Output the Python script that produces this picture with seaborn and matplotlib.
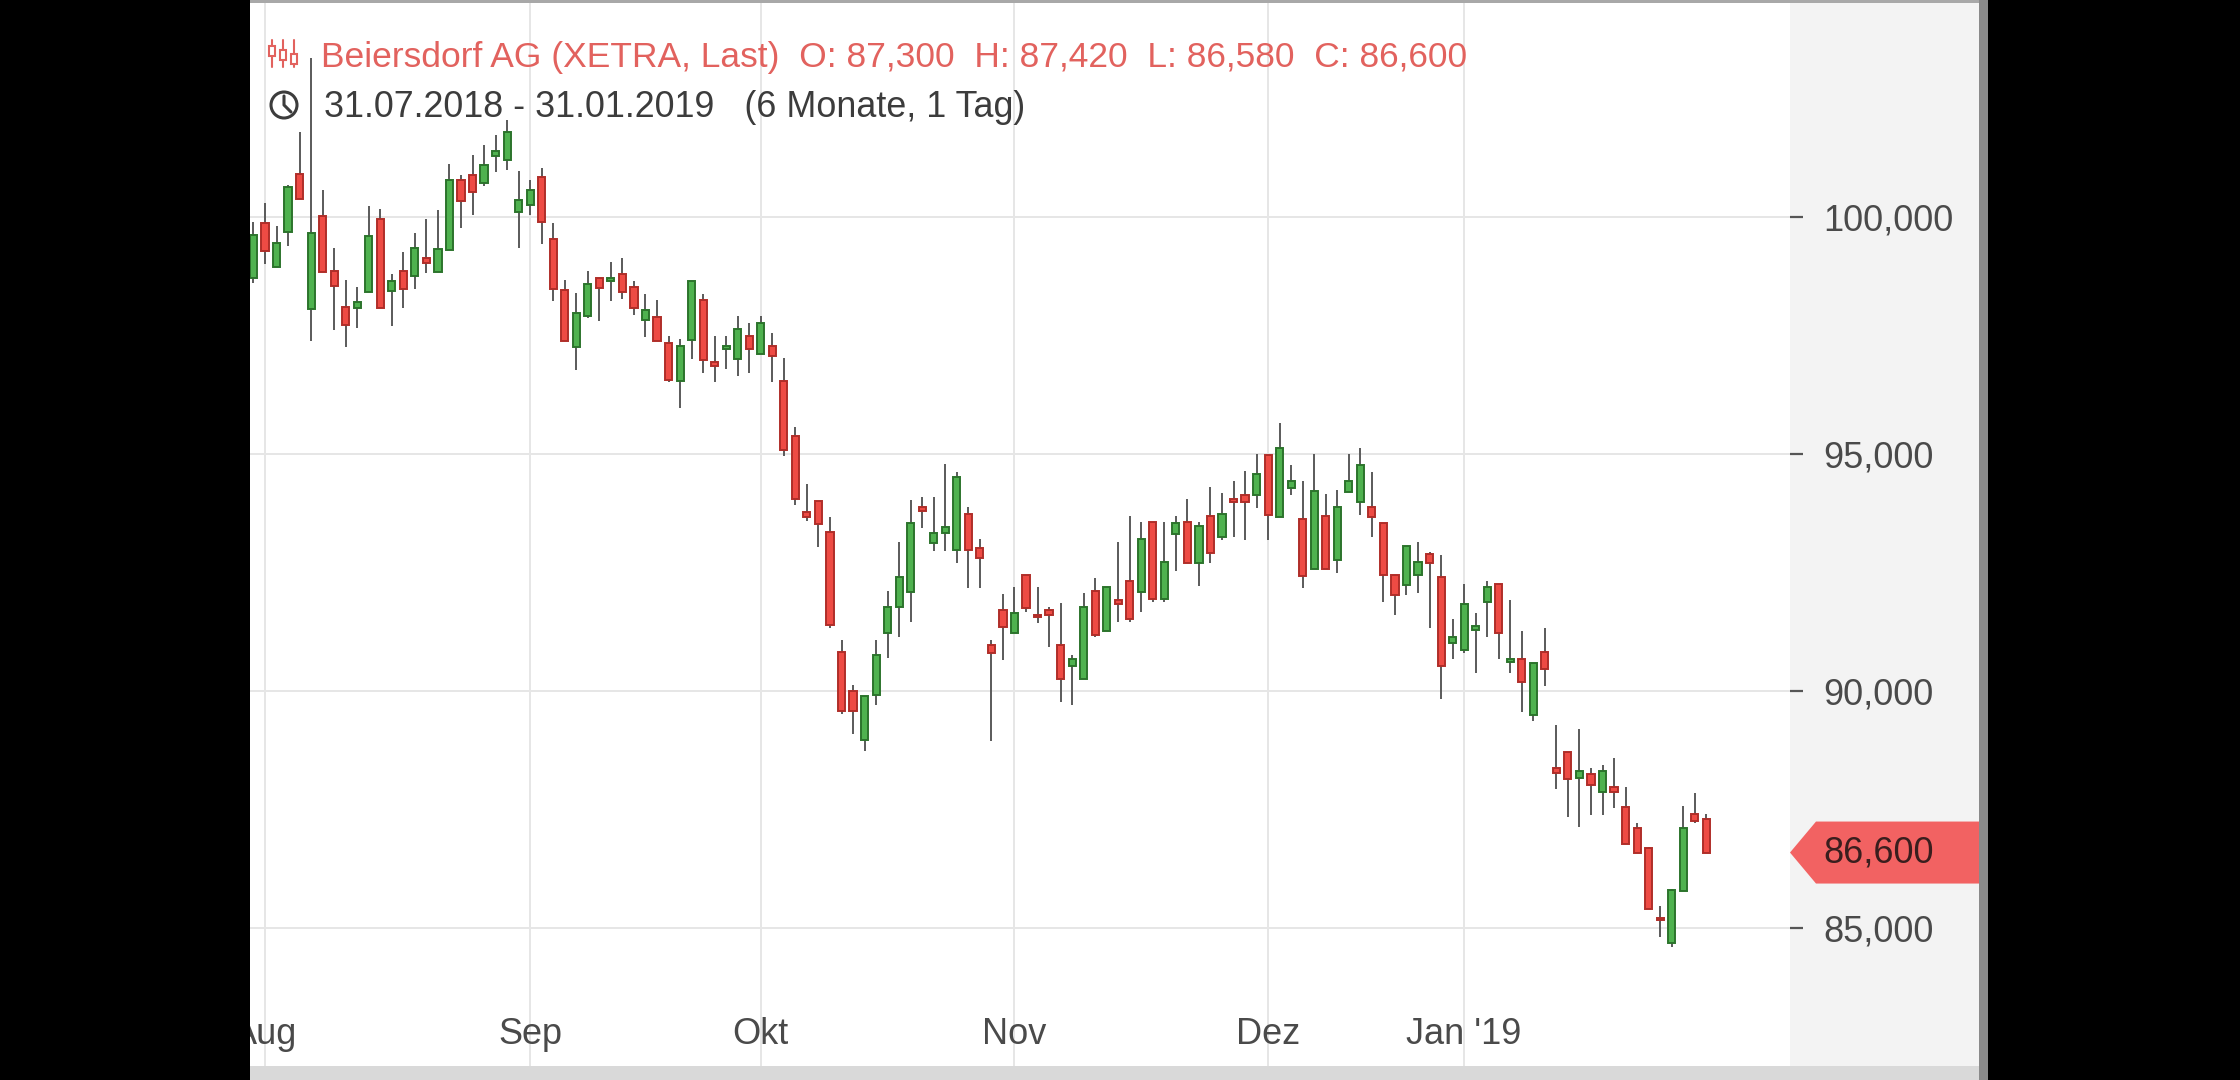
import numpy as np
import pandas as pd
import seaborn as sns
import matplotlib
matplotlib.use("Agg")
import matplotlib.pyplot as plt
import matplotlib.transforms as mtrans
from matplotlib.patches import Rectangle, Polygon, Ellipse
from matplotlib.lines import Line2D
from matplotlib.ticker import FuncFormatter

# Beiersdorf AG (XETRA) Tageskerzen 31.07.2018 - 31.01.2019
holidays = ["2018-10-03", "2018-12-24", "2018-12-25", "2018-12-26", "2018-12-31", "2019-01-01"]
dates = pd.bdate_range("2018-07-31", "2019-01-31", freq="C", holidays=holidays)

opens = [98.71, 99.88, 98.95, 99.69, 100.91, 98.06, 100.02, 98.85, 98.11, 98.08,
         98.41, 99.95, 98.43, 98.85, 98.76, 99.13, 98.83, 99.31, 100.77, 100.89,
         100.71, 101.29, 101.20, 100.11, 100.26, 100.84, 99.53, 98.45, 97.25, 97.91,
         98.71, 98.64, 98.80, 98.52, 97.82, 97.90, 97.35, 96.55, 97.41, 98.25,
         96.95, 97.21, 97.00, 97.49, 97.11, 97.28, 96.55, 95.38, 93.77, 94.02,
         93.36, 90.83, 90.01, 88.97, 89.92, 91.22, 91.77, 92.10, 93.89, 93.12,
         93.33, 92.98, 93.74, 93.01, 90.98, 91.71, 91.22, 92.45, 91.61, 91.71,
         90.98, 90.53, 90.25, 92.12, 91.28, 91.92, 92.33, 92.10, 93.56, 91.94,
         93.32, 93.56, 92.70, 93.70, 93.25, 94.05, 94.14, 94.14, 94.98, 93.67,
         94.28, 93.63, 92.57, 93.70, 92.77, 94.21, 94.00, 93.88, 93.54, 92.45,
         92.24, 92.45, 92.89, 92.40, 91.02, 90.87, 91.30, 91.89, 92.26, 90.62,
         90.69, 89.50, 90.83, 88.38, 88.73, 88.17, 88.26, 87.88, 87.98, 87.57,
         87.11, 86.69, 85.19, 84.69, 85.78, 87.41, 87.30]
highs = [99.90, 100.30, 99.81, 100.68, 101.80, 103.35, 100.57, 99.34, 98.66, 98.52,
         100.23, 100.16, 98.80, 99.27, 99.67, 99.95, 100.15, 101.12, 100.89, 101.31,
         101.52, 101.73, 102.05, 100.96, 100.77, 101.03, 99.88, 98.66, 98.39, 98.85,
         98.71, 99.06, 99.13, 98.64, 98.38, 98.25, 97.49, 97.42, 98.64, 98.38,
         97.49, 97.49, 97.91, 97.77, 97.91, 97.56, 97.02, 95.58, 94.38, 94.02,
         93.68, 91.09, 90.13, 89.90, 91.09, 92.12, 93.15, 94.03, 94.10, 94.10,
         94.79, 94.63, 93.89, 93.22, 91.09, 92.06, 92.20, 92.45, 92.20, 91.78,
         91.87, 90.76, 92.08, 92.38, 92.19, 93.15, 93.70, 93.56, 93.56, 93.56,
         93.70, 94.05, 93.56, 94.31, 94.17, 94.44, 94.65, 95.00, 94.98, 95.66,
         94.77, 94.44, 95.00, 94.16, 94.24, 95.00, 95.12, 94.63, 93.54, 92.45,
         93.06, 93.15, 92.94, 92.87, 91.52, 92.26, 91.66, 92.33, 92.26, 91.92,
         91.28, 90.60, 91.33, 89.29, 88.73, 89.20, 88.38, 88.45, 88.59, 87.98,
         87.23, 86.72, 85.47, 85.84, 87.58, 87.85, 87.42]
lows = [98.60, 99.01, 98.95, 99.38, 100.38, 97.39, 98.83, 97.61, 97.25, 97.65,
        98.41, 98.08, 97.71, 98.08, 98.48, 98.81, 98.83, 99.31, 99.76, 100.05,
        100.66, 100.94, 100.98, 99.34, 100.05, 99.43, 98.22, 97.39, 96.78, 97.86,
        97.80, 98.22, 98.27, 97.94, 97.47, 97.39, 96.51, 95.97, 97.00, 96.72,
        96.51, 96.79, 96.65, 96.72, 97.11, 96.51, 94.95, 93.93, 93.58, 93.05,
        91.33, 89.52, 89.10, 88.75, 89.71, 90.71, 91.15, 91.47, 93.44, 92.96,
        92.96, 92.70, 92.17, 92.17, 88.96, 90.66, 91.22, 91.68, 91.43, 90.93,
        89.78, 89.71, 90.25, 91.14, 91.28, 91.47, 91.47, 91.68, 91.89, 91.89,
        92.54, 92.70, 92.21, 92.70, 93.19, 93.25, 93.18, 93.86, 93.18, 93.67,
        94.14, 92.17, 92.57, 92.57, 92.49, 94.21, 93.72, 93.25, 91.89, 91.61,
        92.03, 92.08, 91.33, 89.83, 90.67, 90.81, 90.39, 91.14, 90.67, 90.39,
        89.57, 89.38, 90.11, 87.93, 87.34, 87.13, 87.39, 87.39, 87.53, 86.79,
        86.58, 85.42, 84.81, 84.60, 85.78, 87.23, 86.58]
closes = [99.62, 99.29, 99.46, 100.63, 100.38, 99.67, 98.83, 98.55, 97.73, 98.20,
          99.60, 98.08, 98.64, 98.48, 99.34, 99.03, 99.32, 100.77, 100.33, 100.52,
          101.10, 101.38, 101.78, 100.36, 100.56, 99.90, 98.48, 97.39, 97.97, 98.59,
          98.50, 98.71, 98.41, 98.08, 98.04, 97.39, 96.57, 97.28, 98.64, 96.99,
          96.85, 97.28, 97.63, 97.21, 97.77, 97.07, 95.09, 94.05, 93.67, 93.53,
          91.40, 89.59, 89.59, 89.90, 90.76, 91.78, 92.40, 93.55, 93.79, 93.34,
          93.46, 94.52, 92.98, 92.82, 90.81, 91.36, 91.64, 91.75, 91.56, 91.61,
          90.25, 90.69, 91.78, 91.19, 92.19, 91.84, 91.52, 93.20, 91.94, 92.73,
          93.54, 92.70, 93.49, 92.91, 93.74, 94.00, 94.00, 94.58, 93.72, 95.12,
          94.44, 92.43, 94.23, 92.57, 93.89, 94.44, 94.77, 93.67, 92.45, 92.03,
          93.06, 92.73, 92.71, 90.53, 91.15, 91.85, 91.37, 92.19, 91.22, 90.69,
          90.20, 90.60, 90.46, 88.28, 88.14, 88.31, 88.02, 88.31, 87.88, 86.79,
          86.58, 85.42, 85.17, 85.81, 87.11, 87.27, 86.60]

month_labels = ["Aug", "Sep", "Okt", "Nov", "Dez", "Jan '19"]
y_ticks = [85, 90, 95, 100]

df = pd.DataFrame({"date": dates, "open": opens, "high": highs, "low": lows, "close": closes})
df["idx"] = np.arange(len(df))
df["up"] = df["close"] >= df["open"]

sns.set_theme(style="white")
plt.rcParams["font.family"] = ["Liberation Sans", "DejaVu Sans"]

W, H = 2240, 1080
fig = plt.figure(figsize=(W / 100, H / 100), dpi=100, facecolor="black")

# plot area in pixels
left_px, right_px, top_px, bot_px = 250, 1790, 3, 1066
ax = fig.add_axes([left_px / W, 1 - bot_px / H, (right_px - left_px) / W, (bot_px - top_px) / H])
ax.set_facecolor("white")

# right price panel, border, bottom strip, top line
fig.add_artist(Rectangle((right_px / W, 0), (1979 - right_px) / W, 1, transform=fig.transFigure,
                         facecolor="#f3f3f3", edgecolor="none", zorder=-1))
fig.add_artist(Rectangle((1979 / W, 0), 9 / W, 1, transform=fig.transFigure,
                         facecolor="#8a8a8a", edgecolor="none", zorder=-1))
fig.add_artist(Rectangle((left_px / W, 0), (1979 - left_px) / W, 14 / H, transform=fig.transFigure,
                         facecolor="#d9d9d9", edgecolor="none", zorder=-1))
fig.add_artist(Rectangle((left_px / W, 1 - 3 / H), (1979 - left_px) / W, 3 / H, transform=fig.transFigure,
                         facecolor="#a8a8a8", edgecolor="none", zorder=-1))

# candles
green_fill, green_edge = "#4fb24f", "#2c742c"
red_fill, red_edge = "#ee4b44", "#b02e29"
ax.vlines(df["idx"], df["low"], df["high"], color="#5a5a5a", linewidth=1.4, zorder=2)
body_bottom = np.minimum(df["open"], df["close"])
body_height = np.maximum(np.abs(df["close"] - df["open"]), 0.04)
ax.bar(df["idx"], body_height, bottom=body_bottom, width=0.62,
       color=np.where(df["up"], green_fill, red_fill),
       edgecolor=np.where(df["up"], green_edge, red_edge), linewidth=1.4, zorder=3)

ax.set_xlim(-0.30, 133.26)
ax.set_ylim(82.10, 104.51)

# month ticks at first trading day of each month
month_pos = df.groupby(df["date"].dt.to_period("M"))["idx"].min().values[1:]
ax.set_xticks(month_pos)
ax.set_xticklabels(month_labels)
ax.set_yticks(y_ticks)
ax.yaxis.tick_right()
ax.yaxis.set_major_formatter(FuncFormatter(lambda v, p: f"{v:.3f}".replace(".", ",")))
ax.grid(True, color="#e6e6e6", linewidth=1.4)
ax.set_axisbelow(True)
ax.tick_params(axis="x", direction="in", length=7, width=1.4, color="#666", pad=-35,
               labelsize=26, labelcolor="#4a4a4a")
ax.tick_params(axis="y", direction="out", length=9, width=1.6, color="#555", pad=15,
               labelsize=26, labelcolor="#4a4a4a", right=True, left=False)
for s in ax.spines.values():
    s.set_visible(False)

# last price marker
last = closes[-1]
bt = mtrans.blended_transform_factory(fig.transFigure, ax.transData)
hh = 31 / ((bot_px - top_px) / (104.51 - 82.10))
ax.add_patch(Polygon([(right_px / W, last), (1816 / W, last + hh), (1979 / W, last + hh),
                      (1979 / W, last - hh), (1816 / W, last - hh)], closed=True,
                     transform=bt, facecolor="#f26262", edgecolor="none", clip_on=False, zorder=6))
ax.text(1823 / W, last, f"{last:.3f}".replace(".", ","), transform=bt, va="center", ha="left",
        fontsize=26, color="#3a1e1e", clip_on=False, zorder=7)

# left black cover (cuts the Aug label like the screenshot)
fig.add_artist(Rectangle((0, 0), left_px / W, 1, transform=fig.transFigure,
                         facecolor="black", edgecolor="none", zorder=10))

# header
hdr_red = "#e2625e"
fig.text(321 / W, 1 - 67 / H,
         "Beiersdorf AG (XETRA, Last)  O: 87,300  H: 87,420  L: 86,580  C: 86,600",
         fontsize=25.5, color=hdr_red, va="baseline", ha="left", zorder=8)
fig.text(324 / W, 1 - 117 / H, "31.07.2018 - 31.01.2019   (6 Monate, 1 Tag)",
         fontsize=25.8, color="#3c3c3c", va="baseline", ha="left", zorder=8)

# candle icon
for cx, y0, y1 in [(272, 46, 56), (283, 50, 60), (294, 54, 64)]:
    fig.add_artist(Line2D([cx / W, cx / W], [1 - 40 / H, 1 - 67 / H], transform=fig.transFigure,
                          color=hdr_red, linewidth=1.5, zorder=8))
    fig.add_artist(Rectangle(((cx - 3) / W, 1 - y1 / H), 6 / W, (y1 - y0) / H, transform=fig.transFigure,
                             facecolor="white", edgecolor=hdr_red, linewidth=1.5, zorder=9))
# clock icon
fig.add_artist(Ellipse((284 / W, 1 - 105 / H), 26 / W, 26 / H, transform=fig.transFigure,
                       facecolor="white", edgecolor="#3c3c3c", linewidth=2.2, zorder=8))
fig.add_artist(Line2D([284 / W, 284 / W, 291 / W], [1 - 96 / H, 1 - 105 / H, 1 - 112 / H],
                      transform=fig.transFigure, color="#3c3c3c", linewidth=2.2, zorder=9))

fig.savefig("out.png", dpi=100, facecolor="black")
